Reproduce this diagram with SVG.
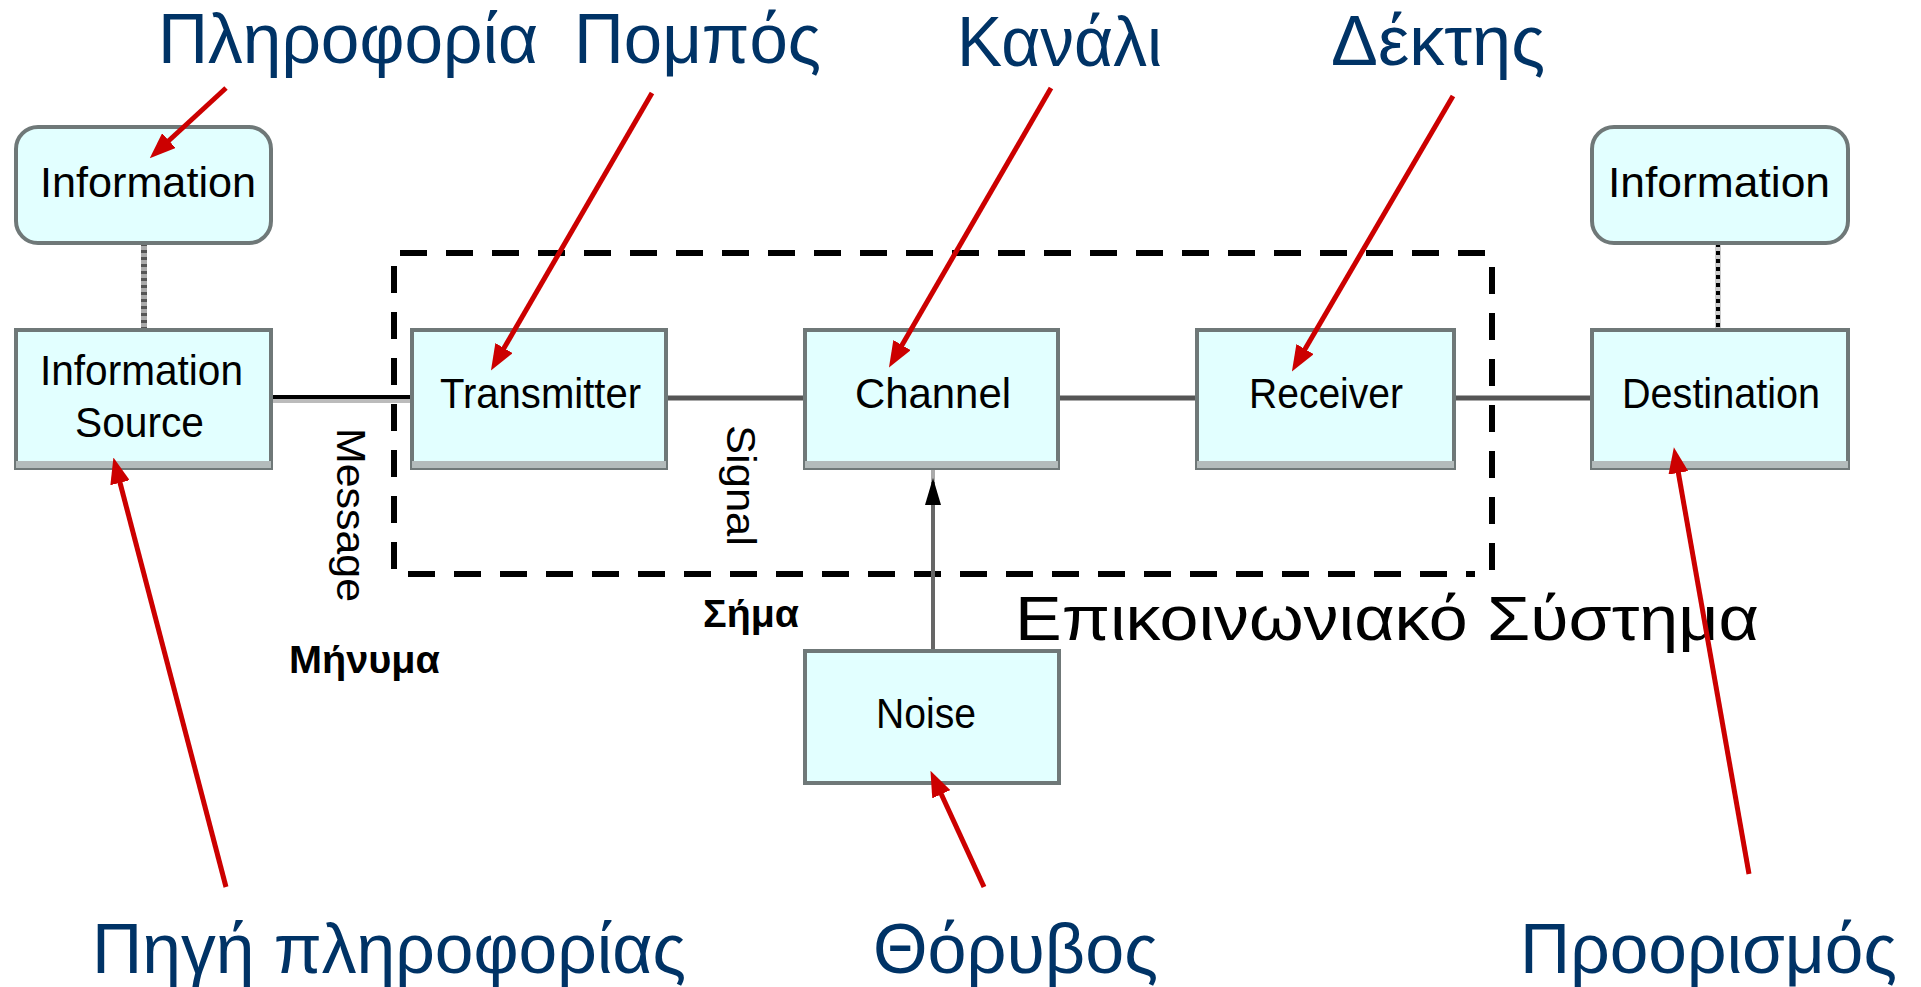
<svg xmlns="http://www.w3.org/2000/svg" width="1921" height="987" viewBox="0 0 1921 987">
  <defs>
    <style>
      .box { fill: #e2ffff; stroke: #6f7878; stroke-width: 4; }
      .shade { fill: #b3bbbb; }
      .lbl { font-family: "Liberation Sans", Arial, sans-serif; font-size: 43px; fill: #000; }
      .vlbl { font-family: "Liberation Sans", Arial, sans-serif; font-size: 40px; fill: #000; }
      .gr { font-family: "Liberation Sans", Arial, sans-serif; font-size: 70px; fill: #003366; }
      .sys { font-family: "Liberation Sans", Arial, sans-serif; font-size: 63px; fill: #000; }
      .bold { font-family: "Liberation Sans", Arial, sans-serif; font-size: 38px; font-weight: bold; fill: #000; }
      .red { stroke: #cc0000; stroke-width: 5; fill: none; marker-end: url(#redHead); }
      .link { stroke: #555; stroke-width: 5; fill: none; }
    </style>
    <marker id="redHead" viewBox="0 0 26 20" refX="8" refY="10" markerWidth="26" markerHeight="20" markerUnits="userSpaceOnUse" orient="auto">
      <path d="M0,0 L26,10 L0,20 z" fill="#cc0000"/>
    </marker>
  </defs>

  <!-- system boundary -->
  <g id="system-boundary" fill="none" stroke="#000" stroke-width="6" stroke-dasharray="27 19">
    <path d="M1485,253 H394 V574 H1475"/>
    <path d="M1492,267 V570"/>
  </g>

  <!-- connectors -->
  <g id="connectors">
    <!-- dotted links to information boxes -->
    <line x1="144" y1="243" x2="144" y2="330" stroke="#aaa" stroke-width="6"/>
    <line x1="144" y1="243" x2="144" y2="330" stroke="#555" stroke-width="6" stroke-dasharray="3 4"/>
    <line x1="1718" y1="243" x2="1718" y2="330" stroke="#ccc" stroke-width="6"/>
    <line x1="1718" y1="243" x2="1718" y2="330" stroke="#000" stroke-width="4" stroke-dasharray="4 4"/>
    <!-- message line -->
    <line x1="271" y1="397" x2="412" y2="397" stroke="#000" stroke-width="4"/>
    <line x1="271" y1="401" x2="412" y2="401" stroke="#bbb" stroke-width="4"/>
    <!-- signal chain -->
    <line class="link" x1="666" y1="398" x2="805" y2="398"/>
    <line class="link" x1="1058" y1="398" x2="1197" y2="398"/>
    <line class="link" x1="1454" y1="398" x2="1592" y2="398"/>
    <!-- noise into channel -->
    <line x1="933" y1="468" x2="933" y2="482" stroke="#aaa" stroke-width="4"/>
    <line x1="933" y1="482" x2="933" y2="651" stroke="#666" stroke-width="4"/>
    <polygon points="933,478 925,505 941,505" fill="#000"/>
  </g>

  <!-- nodes -->
  <g id="info-src">
    <rect class="box" x="16" y="127" width="255" height="116" rx="22"/>
    <text class="lbl" x="40" y="197" textLength="216" lengthAdjust="spacingAndGlyphs">Information</text>
  </g>
  <g id="information-source">
    <rect class="box" x="16" y="330" width="255" height="138"/>
    <rect class="shade" x="16" y="461" width="255" height="7"/>
    <text class="lbl" x="40" y="385" textLength="203" lengthAdjust="spacingAndGlyphs">Information</text>
    <text class="lbl" x="75" y="437" textLength="129" lengthAdjust="spacingAndGlyphs">Source</text>
  </g>
  <g id="transmitter">
    <rect class="box" x="412" y="330" width="254" height="138"/>
    <rect class="shade" x="412" y="461" width="254" height="7"/>
    <text class="lbl" x="440" y="408" textLength="201" lengthAdjust="spacingAndGlyphs">Transmitter</text>
  </g>
  <g id="channel">
    <rect class="box" x="805" y="330" width="253" height="138"/>
    <rect class="shade" x="805" y="461" width="253" height="7"/>
    <text class="lbl" x="855" y="408" textLength="156" lengthAdjust="spacingAndGlyphs">Channel</text>
  </g>
  <g id="receiver">
    <rect class="box" x="1197" y="330" width="257" height="138"/>
    <rect class="shade" x="1197" y="461" width="257" height="7"/>
    <text class="lbl" x="1249" y="408" textLength="154" lengthAdjust="spacingAndGlyphs">Receiver</text>
  </g>
  <g id="destination">
    <rect class="box" x="1592" y="330" width="256" height="138"/>
    <rect class="shade" x="1592" y="461" width="256" height="7"/>
    <text class="lbl" x="1622" y="408" textLength="198" lengthAdjust="spacingAndGlyphs">Destination</text>
  </g>
  <g id="info-dst">
    <rect class="box" x="1592" y="127" width="256" height="116" rx="22"/>
    <text class="lbl" x="1608" y="197" textLength="222" lengthAdjust="spacingAndGlyphs">Information</text>
  </g>
  <g id="noise">
    <rect class="box" x="805" y="651" width="254" height="132"/>
    <text class="lbl" x="876" y="728" textLength="100" lengthAdjust="spacingAndGlyphs">Noise</text>
  </g>

  <!-- connector labels -->
  <g id="link-labels">
    <text class="vlbl" transform="translate(337,428) rotate(90)" textLength="174" lengthAdjust="spacingAndGlyphs">Message</text>
    <text class="vlbl" transform="translate(727,425) rotate(90)" textLength="121" lengthAdjust="spacingAndGlyphs">Signal</text>
    <text class="bold" x="289" y="673" textLength="151" lengthAdjust="spacingAndGlyphs">Μήνυμα</text>
    <text class="bold" x="703" y="627" textLength="96" lengthAdjust="spacingAndGlyphs">Σήμα</text>
    <text class="sys" x="1015" y="640" textLength="744" lengthAdjust="spacingAndGlyphs">Επικοινωνιακό Σύστημα</text>
  </g>

  <!-- Greek annotations -->
  <g id="annotations">
    <text class="gr" x="158" y="63" textLength="380" lengthAdjust="spacingAndGlyphs">Πληροφορία</text>
    <text class="gr" x="574" y="63" textLength="247" lengthAdjust="spacingAndGlyphs">Πομπός</text>
    <text class="gr" x="957" y="66" textLength="205" lengthAdjust="spacingAndGlyphs">Κανάλι</text>
    <text class="gr" x="1331" y="65" textLength="214" lengthAdjust="spacingAndGlyphs">Δέκτης</text>
    <text class="gr" x="92" y="973" textLength="594" lengthAdjust="spacingAndGlyphs">Πηγή πληροφορίας</text>
    <text class="gr" x="873" y="973" textLength="285" lengthAdjust="spacingAndGlyphs">Θόρυβος</text>
    <text class="gr" x="1520" y="973" textLength="377" lengthAdjust="spacingAndGlyphs">Προορισμός</text>
  </g>

  <!-- annotation pointers -->
  <g id="pointers">
    <line class="red" x1="226" y1="88" x2="163" y2="146"/>
    <line class="red" x1="652" y1="93" x2="500" y2="355"/>
    <line class="red" x1="1051" y1="88" x2="898" y2="352"/>
    <line class="red" x1="1453" y1="96" x2="1301" y2="356"/>
    <line class="red" x1="226" y1="887" x2="118" y2="475"/>
    <line class="red" x1="984" y1="887" x2="938" y2="787"/>
    <line class="red" x1="1749" y1="874" x2="1677" y2="465"/>
  </g>
</svg>
